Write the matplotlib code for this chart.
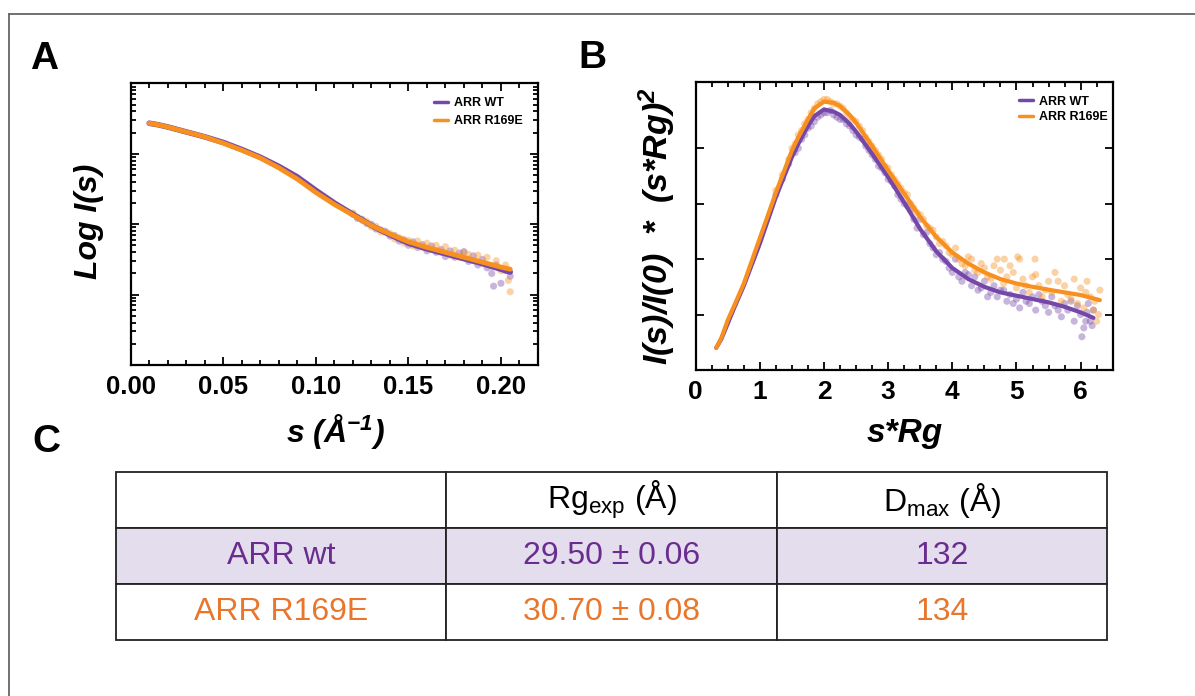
import matplotlib
matplotlib.use("Agg")
import matplotlib.pyplot as plt
from matplotlib.lines import Line2D
from matplotlib.ticker import MultipleLocator, LogLocator, NullFormatter, FormatStrFormatter
import numpy as np

plt.rcParams['font.family'] = ['Liberation Sans', 'DejaVu Sans']
plt.rcParams['mathtext.fontset'] = 'custom'
plt.rcParams['mathtext.rm'] = 'Liberation Sans'
plt.rcParams['mathtext.it'] = 'Liberation Sans:italic'
plt.rcParams['mathtext.bf'] = 'Liberation Sans:bold:italic'

PURPLE = '#7447a8'
ORANGE = '#f7901e'
PURPLE_TXT = '#6a2d8f'
ORANGE_TXT = '#e8762c'

# Panel A: log I(s) vs s  (fit curves, log10 values)
s_fit = [0.010, 0.015, 0.020, 0.030, 0.040, 0.050, 0.060, 0.070, 0.080, 0.090, 0.100,
         0.110, 0.120, 0.130, 0.140, 0.150, 0.160, 0.170, 0.180, 0.190, 0.200, 0.205]
logi_wt_fit = [-0.567, -0.59, -0.62, -0.69, -0.76, -0.84, -0.94, -1.05, -1.18, -1.33, -1.52,
               -1.70, -1.86, -2.02, -2.15, -2.27, -2.35, -2.42, -2.49, -2.56, -2.64, -2.68]
logi_r169e_fit = [-0.567, -0.59, -0.62, -0.69, -0.76, -0.85, -0.95, -1.06, -1.20, -1.36, -1.55,
                  -1.72, -1.87, -2.02, -2.14, -2.25, -2.33, -2.40, -2.47, -2.54, -2.61, -2.64]

# Panel A: measured points in the noisy tail
s_wt_pts = [0.120, 0.1225, 0.125, 0.1275, 0.130, 0.1325, 0.135, 0.1375, 0.140, 0.1425, 0.145,
            0.1475, 0.150, 0.1525, 0.155, 0.1575, 0.160, 0.1625, 0.165, 0.1675, 0.170, 0.1725,
            0.175, 0.1775, 0.180, 0.1825, 0.185, 0.1875, 0.190, 0.1925, 0.195, 0.196, 0.1975,
            0.200, 0.2025, 0.205]
logi_wt_pts = [-1.86, -1.92, -1.93, -1.99, -2.00, -2.07, -2.08, -2.10, -2.17, -2.16, -2.24,
               -2.22, -2.30, -2.25, -2.33, -2.29, -2.38, -2.31, -2.40, -2.36, -2.46, -2.38,
               -2.47, -2.41, -2.39, -2.53, -2.45, -2.58, -2.50, -2.62, -2.70, -2.88, -2.58,
               -2.84, -2.66, -2.74]
s_r169e_pts = [0.120, 0.1225, 0.125, 0.1275, 0.130, 0.1325, 0.135, 0.1375, 0.140, 0.1425, 0.145,
               0.1475, 0.150, 0.1525, 0.155, 0.1575, 0.160, 0.1625, 0.165, 0.1675, 0.170, 0.1725,
               0.175, 0.1775, 0.180, 0.1825, 0.185, 0.1875, 0.190, 0.1925, 0.195, 0.1975, 0.200,
               0.2025, 0.204, 0.205]
logi_r169e_pts = [-1.84, -1.90, -1.95, -1.96, -2.04, -2.03, -2.11, -2.12, -2.13, -2.21, -2.19,
                  -2.27, -2.23, -2.31, -2.24, -2.33, -2.27, -2.36, -2.30, -2.40, -2.32, -2.44,
                  -2.37, -2.47, -2.40, -2.43, -2.52, -2.44, -2.56, -2.47, -2.60, -2.52, -2.66,
                  -2.58, -2.80, -2.96]

# Panel B: dimensionless Kratky plot (fit curves)
srg_wt_fit = [0.32, 0.4, 0.5, 0.6, 0.75, 1.0, 1.25, 1.5, 1.6, 1.75, 1.85, 2.0, 2.15, 2.25, 2.4,
              2.5, 2.75, 3.0, 3.25, 3.5, 3.75, 4.0, 4.25, 4.5, 4.75, 5.0, 5.25, 5.5, 5.75, 6.0, 6.2]
kr_wt_fit = [0.10, 0.14, 0.21, 0.28, 0.38, 0.57, 0.78, 0.96, 1.02, 1.10, 1.145, 1.175, 1.165,
             1.15, 1.11, 1.075, 0.975, 0.87, 0.755, 0.635, 0.535, 0.46, 0.41, 0.375, 0.35, 0.335,
             0.32, 0.305, 0.285, 0.26, 0.235]
srg_r169e_fit = [0.32, 0.4, 0.5, 0.6, 0.75, 1.0, 1.25, 1.5, 1.6, 1.75, 1.85, 2.0, 2.15, 2.25, 2.4,
                 2.5, 2.75, 3.0, 3.25, 3.5, 3.75, 4.0, 4.25, 4.5, 4.75, 5.0, 5.25, 5.5, 5.75, 6.0,
                 6.3]
kr_r169e_fit = [0.10, 0.145, 0.225, 0.29, 0.39, 0.595, 0.80, 0.99, 1.05, 1.13, 1.18, 1.21, 1.205,
                1.19, 1.15, 1.115, 1.01, 0.90, 0.795, 0.69, 0.60, 0.53, 0.48, 0.44, 0.41, 0.39,
                0.375, 0.362, 0.35, 0.338, 0.315]

# Panel B: measured points
srg_wt_pts = [1.6, 1.7, 1.8, 1.9, 2.0, 2.1, 2.2, 2.3, 2.4, 2.5, 2.6, 2.7, 2.8, 2.9, 3.0, 3.1, 3.2,
              3.3, 3.4, 3.5, 3.55, 3.6, 3.7, 3.8, 3.85, 3.9, 4.0, 4.05, 4.1, 4.2, 4.3, 4.35, 4.4,
              4.5, 4.6, 4.65, 4.7, 4.8, 4.85, 4.9, 5.0, 5.05, 5.1, 5.2, 5.25, 5.3, 5.4, 5.5, 5.55,
              5.6, 5.7, 5.75, 5.8, 5.9, 5.95, 6.0, 6.02, 6.05, 6.1, 6.15, 6.2,
              1.25, 1.35, 1.45, 1.55, 1.65, 1.75, 1.85, 1.95, 2.05, 2.15, 2.25, 2.35, 2.45, 2.55,
              2.65, 2.75, 2.85, 2.95, 3.05, 3.15, 3.25, 3.35, 3.45, 3.65, 3.75, 3.95, 4.15, 4.25,
              4.45, 4.55, 4.75, 4.95, 5.15, 5.35, 5.45, 5.65, 5.85, 6.08, 6.12, 6.18]
kr_wt_pts = [1.00, 1.06, 1.10, 1.14, 1.16, 1.17, 1.14, 1.13, 1.10, 1.06, 1.04, 0.99, 0.95, 0.91,
             0.86, 0.83, 0.77, 0.74, 0.68, 0.68, 0.61, 0.62, 0.55, 0.53, 0.50, 0.49, 0.44, 0.50,
             0.42, 0.44, 0.38, 0.42, 0.36, 0.40, 0.35, 0.38, 0.33, 0.36, 0.31, 0.34, 0.32, 0.28,
             0.35, 0.30, 0.33, 0.27, 0.31, 0.26, 0.33, 0.29, 0.24, 0.30, 0.27, 0.22, 0.29, 0.25,
             0.15, 0.19, 0.26, 0.22, 0.27,
             0.79, 0.86, 0.93, 0.98, 1.04, 1.09, 1.12, 1.15, 1.16, 1.15, 1.13, 1.11, 1.08, 1.05,
             1.01, 0.97, 0.92, 0.89, 0.85, 0.79, 0.75, 0.72, 0.64, 0.57, 0.52, 0.46, 0.40, 0.43,
             0.37, 0.33, 0.36, 0.30, 0.31, 0.34, 0.29, 0.27, 0.31, 0.22, 0.30, 0.20]
srg_r169e_pts = [1.5, 1.6, 1.7, 1.8, 1.9, 2.0, 2.1, 2.2, 2.3, 2.4, 2.5, 2.6, 2.7, 2.8, 2.9, 3.0,
                 3.1, 3.2, 3.3, 3.4, 3.5, 3.6, 3.7, 3.8, 3.9, 4.0, 4.1, 4.2, 4.3, 4.4, 4.5, 4.6,
                 4.7, 4.75, 4.8, 4.81, 4.9, 5.0, 5.02, 5.05, 5.1, 5.2, 5.29, 5.3, 5.35, 5.4, 5.5,
                 5.55, 5.6, 5.7, 5.75, 5.8, 5.9, 5.95, 6.0, 6.05, 6.1, 6.15, 6.2, 6.25, 6.3,
                 1.25, 1.35, 1.45, 1.55, 1.65, 1.75, 1.85, 1.95, 2.05, 2.15, 2.25, 2.35, 2.45,
                 2.55, 2.65, 2.75, 2.85, 2.95, 3.05, 3.15, 3.25, 3.35, 3.45, 3.55, 3.65, 3.75,
                 3.85, 3.95, 4.05, 4.15, 4.25, 4.35, 4.45, 4.55, 4.65, 4.85, 4.95, 5.15, 5.25,
                 5.45, 5.65, 5.85, 6.08, 6.22, 6.28]
kr_r169e_pts = [1.00, 1.06, 1.11, 1.16, 1.20, 1.22, 1.21, 1.20, 1.18, 1.14, 1.12, 1.08, 1.03,
                0.99, 0.95, 0.91, 0.86, 0.82, 0.79, 0.73, 0.70, 0.65, 0.63, 0.57, 0.56, 0.52,
                0.50, 0.47, 0.50, 0.44, 0.46, 0.41, 0.50, 0.45, 0.39, 0.50, 0.47, 0.37, 0.51,
                0.50, 0.41, 0.35, 0.50, 0.43, 0.38, 0.33, 0.40, 0.35, 0.44, 0.31, 0.38, 0.34,
                0.41, 0.30, 0.37, 0.28, 0.40, 0.33, 0.27, 0.22, 0.36,
                0.81, 0.88, 0.95, 1.02, 1.08, 1.13, 1.18, 1.21, 1.22, 1.20, 1.19, 1.16, 1.13,
                1.10, 1.05, 1.01, 0.97, 0.92, 0.88, 0.84, 0.80, 0.75, 0.71, 0.68, 0.64, 0.60,
                0.58, 0.53, 0.55, 0.48, 0.51, 0.45, 0.48, 0.42, 0.47, 0.42, 0.44, 0.38, 0.42,
                0.36, 0.40, 0.32, 0.35, 0.31, 0.25]

# Panel C: table
col_headers = ['', r'Rg$_{\mathrm{exp}}$ (Å)', r'D$_{\mathrm{max}}$ (Å)']
constructs = ['ARR wt', 'ARR R169E']
rg_exp = ['29.50 ± 0.06', '30.70 ± 0.08']
d_max = ['132', '134']
row_text_colors = [PURPLE_TXT, ORANGE_TXT]
row_fills = ['#e3dded', 'white']

fig = plt.figure(figsize=(11.95, 6.96), dpi=100)

W, H = 1195.0, 696.0
axA = fig.add_axes([130.7 / W, 1 - 365 / H, 407.3 / W, 281.7 / H])
axB = fig.add_axes([695.7 / W, 1 - 370 / H, 417.0 / W, 288.3 / H])

dot_kw = dict(s=26, alpha=0.4, edgecolors='none', zorder=2)

# ---- A
axA.scatter(s_wt_pts, np.power(10.0, logi_wt_pts), color=PURPLE, **dot_kw)
axA.scatter(s_r169e_pts, np.power(10.0, logi_r169e_pts), color=ORANGE, **dot_kw)
axA.plot(s_fit, np.power(10.0, logi_wt_fit), color=PURPLE, lw=4, solid_capstyle='round',
         zorder=3, label='ARR WT')
axA.plot(s_fit, np.power(10.0, logi_r169e_fit), color=ORANGE, lw=3.5, solid_capstyle='round',
         zorder=4, label='ARR R169E')
axA.set_yscale('log')
axA.set_xlim(0, 0.22)
axA.set_ylim(1e-4, 1e0)
axA.xaxis.set_major_locator(MultipleLocator(0.05))
axA.xaxis.set_minor_locator(MultipleLocator(0.01))
axA.xaxis.set_major_formatter(FormatStrFormatter('%.2f'))
axA.yaxis.set_major_locator(LogLocator(base=10, numticks=10))
axA.yaxis.set_minor_locator(LogLocator(base=10, subs=np.arange(2, 10), numticks=20))
axA.yaxis.set_minor_formatter(NullFormatter())

# ---- B
axB.scatter(srg_wt_pts, kr_wt_pts, color=PURPLE, **dot_kw)
axB.scatter(srg_r169e_pts, kr_r169e_pts, color=ORANGE, **dot_kw)
axB.plot(srg_wt_fit, kr_wt_fit, color=PURPLE, lw=3, solid_capstyle='round', zorder=3,
         label='ARR WT')
axB.plot(srg_r169e_fit, kr_r169e_fit, color=ORANGE, lw=3, solid_capstyle='round', zorder=4,
         label='ARR R169E')
axB.set_xlim(0, 6.5)
axB.set_ylim(0, 1.3)
axB.xaxis.set_major_locator(MultipleLocator(1))
axB.xaxis.set_minor_locator(MultipleLocator(0.25))
axB.set_yticks([0.25, 0.5, 0.75, 1.0])

for ax, fs in ((axA, 18.5), (axB, 19)):
    for sp in ax.spines.values():
        sp.set_linewidth(1.6)
    ax.tick_params(which='both', direction='in', top=True, right=True, width=1.3,
                   labelleft=False, labelsize=fs, pad=7)
    ax.tick_params(which='major', length=6)
    ax.tick_params(which='minor', length=3.5)
    for lab in ax.get_xticklabels():
        lab.set_fontweight('bold')

legA = axA.legend(loc='upper right', bbox_to_anchor=(0.975, 0.968), borderaxespad=0,
                  frameon=False, handlelength=1.1, handletextpad=0.5, labelspacing=0.45,
                  prop={'weight': 'bold', 'size': 9})
legB = axB.legend(loc='upper right', bbox_to_anchor=(1.0, 0.969), borderaxespad=0,
                  frameon=False, handlelength=1.1, handletextpad=0.5, labelspacing=0.3,
                  prop={'weight': 'bold', 'size': 9})
for leg in (legA, legB):
    for h in leg.get_lines():
        h.set_linewidth(2.5)

lab_kw = dict(fontweight='bold', fontstyle='italic')
fig.text(89 / W, 1 - 221 / H, 'Log I(s)', rotation=90, ha='center', va='center',
         fontsize=23, **lab_kw)
fig.text(335 / W, 1 - 442 / H, r's (Å$^{\mathbf{-1}}$)', ha='center', va='baseline',
         fontsize=23, **lab_kw)
fig.text(657 / W, 1 - 226 / H, r'I(s)/I(0)  *  (s*Rg)$^{\mathbf{2}}$', rotation=90,
         ha='center', va='center', fontsize=24.5, **lab_kw)
fig.text(905 / W, 1 - 442 / H, 's*Rg', ha='center', va='baseline', fontsize=24, **lab_kw)

for txt, x, y in (('A', 30, 69), ('B', 578, 68), ('C', 32, 452)):
    fig.text(x / W, 1 - y / H, txt, fontsize=28, fontweight='bold', ha='left', va='baseline')

# ---- C table
tax = fig.add_axes([116 / W, 1 - 640 / H, 991 / W, 168 / H])
tax.axis('off')
cells = [col_headers] + [[c, r, d] for c, r, d in zip(constructs, rg_exp, d_max)]
fills = [['white'] * 3] + [[f] * 3 for f in row_fills]
tab = tax.table(cellText=cells, cellColours=fills, cellLoc='center', bbox=[0, 0, 1, 1])
tab.auto_set_font_size(False)
for (r, c), cell in tab.get_celld().items():
    cell.set_linewidth(1.3)
    cell.set_edgecolor('#222222')
    t = cell.get_text()
    t.set_fontsize(23)
    t.set_color('black' if r == 0 else row_text_colors[r - 1])

# outer frame of the figure panel (left and top edges)
fig.add_artist(Line2D([9 / W, 9 / W], [0, 1 - 13.5 / H], transform=fig.transFigure,
                      color='#666666', lw=1.3))
fig.add_artist(Line2D([9 / W, 1], [1 - 13.5 / H, 1 - 13.5 / H], transform=fig.transFigure,
                      color='#666666', lw=1.3))

fig.savefig('out.png', dpi=100)
